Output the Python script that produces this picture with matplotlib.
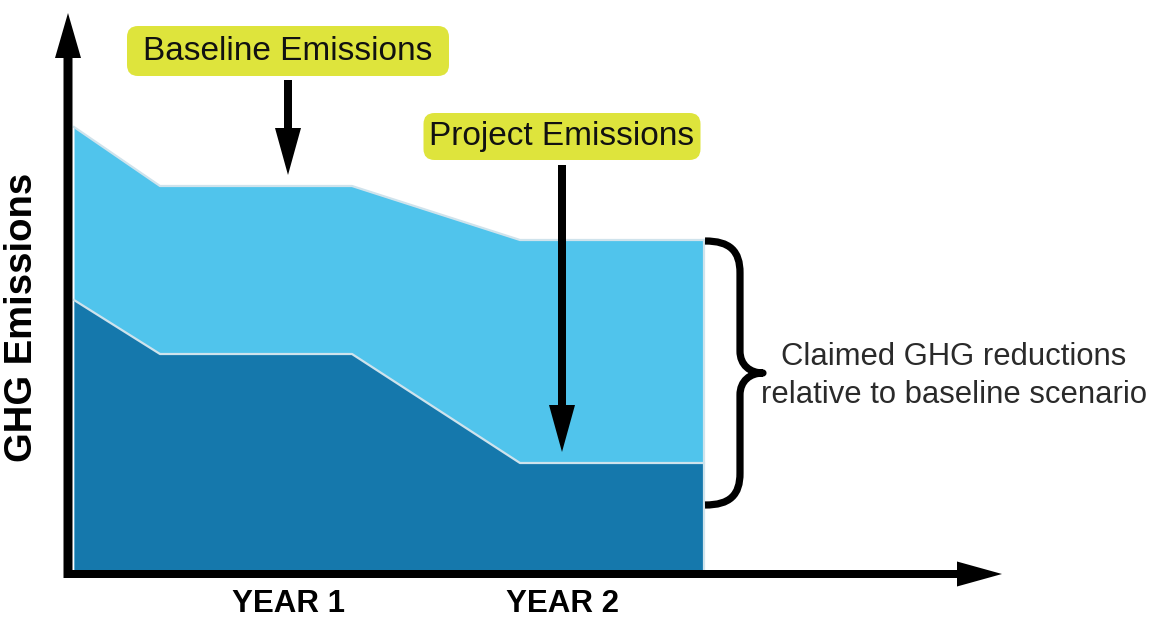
import matplotlib
matplotlib.use("Agg")
import matplotlib.pyplot as plt
from matplotlib.patches import Polygon, FancyBboxPatch, PathPatch
from matplotlib.path import Path
from matplotlib.transforms import IdentityTransform

# -------------------------
# Data (arbitrary units)
# -------------------------
periods = [0.06, 0.92, 2.84, 4.52, 6.36]
baseline = [44.7, 38.8, 38.8, 33.4, 33.4]
project = [27.4, 22.0, 22.0, 11.1, 11.1]

year_pos = [2.2, 4.94]
year_labels = ["YEAR 1", "YEAR 2"]

LIGHT = "#50c4ec"
DARK = "#1578ac"
EDGE = "#cfe3ec"
YELLOW = "#dee43c"
FONT = "Liberation Sans"

W, H = 1162, 626
fig = plt.figure(figsize=(W / 100, H / 100), dpi=100)
ax = fig.add_axes([0, 0, 1, 1])
ax.set_xlim(-0.68, 10.94)
ax.set_ylim(-5.2, 57.4)
ax.axis("off")


def to_px(x, y):
    return ax.transData.transform((x, y))


def arrow(x0, y0, x1, y1, shaft, head_len, head_w):
    # arrow drawn in display pixels so the head is not stretched
    (a, b), (c, d) = to_px(x0, y0), to_px(x1, y1)
    L = ((c - a) ** 2 + (d - b) ** 2) ** 0.5
    ux, uy = (c - a) / L, (d - b) / L
    nx, ny = -uy, ux
    bx, by = c - ux * head_len, d - uy * head_len
    s = shaft / 2
    pts = [
        (a + nx * s, b + ny * s),
        (bx + nx * s, by + ny * s),
        (bx + nx * head_w, by + ny * head_w),
        (c, d),
        (bx - nx * head_w, by - ny * head_w),
        (bx - nx * s, by - ny * s),
        (a - nx * s, b - ny * s),
    ]
    ax.add_patch(Polygon(pts, closed=True, color="black", lw=0,
                         transform=IdentityTransform(), zorder=6))


# -------------------------
# Areas
# -------------------------
ax.fill_between(periods, 0, baseline, color=LIGHT, lw=0, zorder=1)
ax.fill_between(periods, 0, project, color=DARK, lw=0, zorder=2)
ax.plot(periods, baseline, color=EDGE, lw=1.6, zorder=3)
ax.plot(periods, project, color=EDGE, lw=1.6, zorder=3)
ax.plot([periods[-1], periods[-1]], [0, baseline[-1]], color=EDGE, lw=1.6, zorder=3)

# -------------------------
# Axes arrows
# -------------------------
arrow(0, -0.4, 0, 56.1, 9, 45, 13)
arrow(-0.04, 0, 9.34, 0, 8, 45, 12.5)

# -------------------------
# Labels with pointers
# -------------------------
def label(x, y, text, bw, bh):
    px, py = to_px(x, y)
    box = FancyBboxPatch((px - bw / 2, py - bh / 2), bw, bh,
                         boxstyle="round,pad=0,rounding_size=11",
                         fc=YELLOW, ec="none", transform=IdentityTransform(),
                         zorder=7)
    ax.add_patch(box)
    ax.text(x, y, text, ha="center", va="center", fontsize=24,
            family=FONT, color="#111111", zorder=8)


label(year_pos[0], 52.3, "Baseline Emissions", 322, 50)
arrow(year_pos[0], 49.4, year_pos[0], baseline[1] + 1.1, 8, 47, 13)

label(year_pos[1], 43.75, "Project Emissions", 277, 47)
arrow(year_pos[1], 40.9, year_pos[1], project[3] + 1.1, 8, 47, 13)

# -------------------------
# Brace
# -------------------------
tx, ty = to_px(periods[-1], baseline[-1])
x0 = tx + 1
top = ty - 1
bot = top - 264
mid = (top + bot) / 2
xv = x0 + 35
xt = x0 + 58
verts = [
    (x0, top),
    (x0 + 25, top), (xv, top - 10), (xv, top - 32),
    (xv, mid + 22),
    (xv, mid + 8), (xv + 10, mid), (xt, mid),
    (xv + 10, mid), (xv, mid - 8), (xv, mid - 22),
    (xv, bot + 32),
    (xv, bot + 10), (x0 + 25, bot), (x0, bot),
]
codes = [Path.MOVETO,
         Path.CURVE4, Path.CURVE4, Path.CURVE4,
         Path.LINETO,
         Path.CURVE4, Path.CURVE4, Path.CURVE4,
         Path.CURVE4, Path.CURVE4, Path.CURVE4,
         Path.LINETO,
         Path.CURVE4, Path.CURVE4, Path.CURVE4]
ax.add_patch(PathPatch(Path(verts, codes), fc="none", ec="black", lw=5.2,
                       capstyle="butt", joinstyle="round",
                       transform=IdentityTransform(), zorder=6))

ax.text(8.86, 19.8, "Claimed GHG reductions\nrelative to baseline scenario",
        ha="center", va="center", fontsize=22.3, family=FONT,
        color="#2a2a2a", linespacing=1.32)

# -------------------------
# Axis titles
# -------------------------
ax.text(-0.465, 25.7, "GHG Emissions", rotation=90, ha="center", va="center",
        fontsize=27.5, fontweight="bold", family=FONT, color="black")
for xp, lab in zip(year_pos, year_labels):
    ax.text(xp, -2.95, lab, ha="center", va="center", fontsize=22.5,
            fontweight="bold", family=FONT, color="black")

fig.savefig("out.png", dpi=100)
